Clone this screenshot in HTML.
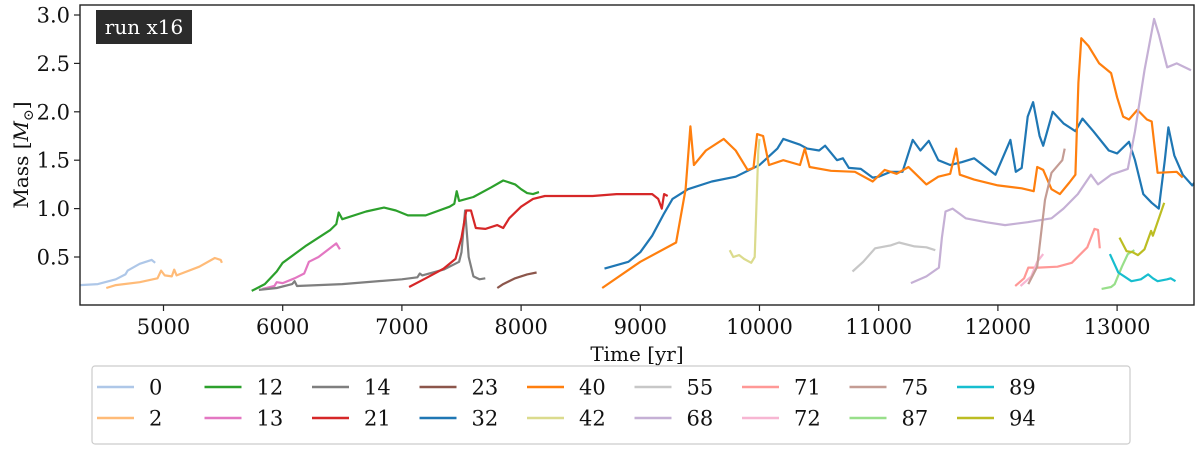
<!DOCTYPE html>
<html><head><meta charset="utf-8">
<style>
html,body{margin:0;padding:0;background:#fff;}
svg{display:block;font-family:"DejaVu Serif","Liberation Serif",serif;}
</style></head>
<body>
<svg id="chart" width="1200" height="451" viewBox="0 0 1200 451" xmlns="http://www.w3.org/2000/svg">
<rect x="0" y="0" width="1200" height="451" fill="#fff"/>
<g id="series"></g>
<rect x="80" y="5" width="1114" height="300" fill="none" stroke="#222" stroke-width="1.4"/>
<g id="xticks"></g>
<g id="yticks"></g>
<text x="637" y="361" font-size="20" text-anchor="middle" fill="#111">Time [yr]</text>
<text transform="translate(28,155) rotate(-90)" font-size="20" text-anchor="middle" fill="#111">Mass [<tspan font-style="italic">M</tspan><tspan font-size="14" dy="5">⊙</tspan><tspan dy="-5">]</tspan></text>
<rect x="96" y="10" width="96" height="34" fill="#2b2b2b"/>
<text x="144" y="34" font-size="20" text-anchor="middle" fill="#fff">run x16</text>
<rect x="92" y="366" width="1038" height="78" rx="3" fill="#fff" stroke="#ccc" stroke-width="1.2"/>
<g id="legend"></g>
</svg>
<script>
const xTicks=[5000,6000,7000,8000,9000,10000,11000,12000,13000];
const yTicks=[0.5,1.0,1.5,2.0,2.5,3.0];
const seriesNames=["0","2","12","13","14","21","23","32","40","42","55","68","71","72","75","87","89","94"];
const seriesColors=["#aec7e8","#ffbb78","#2ca02c","#e377c2","#7f7f7f","#d62728","#8c564b","#1f77b4","#ff7f0e","#dbdb8d","#c7c7c7","#c5b0d5","#ff9896","#f7b6d2","#c49c94","#98df8a","#17becf","#bcbd22"];
const s0=[[4300,0.21],[4450,0.22],[4600,0.27],[4680,0.32],[4700,0.36],[4800,0.43],[4900,0.47],[4930,0.44]];
const s2=[[4520,0.18],[4600,0.21],[4800,0.24],[4950,0.28],[4980,0.36],[5010,0.31],[5070,0.30],[5090,0.37],[5110,0.31],[5300,0.40],[5430,0.49],[5480,0.47],[5490,0.44]];
const s12=[[5740,0.15],[5850,0.22],[5950,0.35],[6000,0.44],[6200,0.62],[6400,0.78],[6450,0.84],[6470,0.96],[6500,0.89],[6700,0.97],[6850,1.01],[6950,0.98],[7050,0.93],[7200,0.93],[7400,1.02],[7440,1.05],[7460,1.18],[7480,1.08],[7600,1.12],[7750,1.22],[7850,1.29],[7950,1.25],[8000,1.20],[8050,1.16],[8100,1.15],[8150,1.17]];
const s13=[[5830,0.17],[5930,0.20],[5950,0.24],[6000,0.23],[6100,0.28],[6180,0.33],[6220,0.45],[6300,0.50],[6450,0.64],[6480,0.58]];
const s14=[[5800,0.16],[5950,0.18],[6080,0.22],[6100,0.25],[6120,0.20],[6500,0.22],[7000,0.27],[7130,0.29],[7150,0.33],[7170,0.31],[7350,0.37],[7480,0.45],[7500,0.55],[7530,0.98],[7560,0.50],[7600,0.30],[7650,0.27],[7700,0.28]];
const s21=[[7060,0.19],[7200,0.28],[7350,0.38],[7450,0.48],[7500,0.70],[7540,0.98],[7580,0.98],[7620,0.80],[7700,0.79],[7800,0.83],[7850,0.80],[7900,0.90],[8000,1.02],[8100,1.10],[8200,1.13],[8400,1.13],[8600,1.13],[8800,1.15],[9100,1.15],[9150,1.10],[9180,1.00],[9200,1.15],[9230,1.13]];
const s23=[[7800,0.18],[7850,0.22],[7950,0.28],[8050,0.32],[8130,0.34]];
const s32=[[8700,0.38],[8900,0.45],[9000,0.55],[9100,0.72],[9200,0.95],[9270,1.10],[9400,1.20],[9600,1.28],[9800,1.33],[10000,1.45],[10150,1.62],[10200,1.72],[10340,1.66],[10400,1.62],[10500,1.60],[10550,1.65],[10650,1.50],[10700,1.52],[10750,1.42],[10850,1.41],[10950,1.32],[11000,1.33],[11100,1.38],[11200,1.38],[11285,1.71],[11350,1.60],[11420,1.70],[11500,1.50],[11600,1.45],[11700,1.48],[11800,1.52],[11980,1.35],[12105,1.71],[12150,1.38],[12200,1.42],[12250,1.95],[12295,2.10],[12350,1.75],[12380,1.65],[12460,2.00],[12550,1.88],[12650,1.80],[12710,1.93],[12800,1.80],[12930,1.60],[13000,1.57],[13100,1.69],[13150,1.50],[13220,1.15],[13290,1.06],[13350,1.00],[13400,1.50],[13430,1.84],[13480,1.55],[13550,1.35],[13630,1.24],[13650,1.27]];
const s40=[[8680,0.18],[9000,0.45],[9300,0.65],[9380,1.20],[9420,1.85],[9450,1.45],[9550,1.60],[9700,1.72],[9800,1.60],[9900,1.40],[9950,1.42],[9980,1.77],[10030,1.75],[10080,1.45],[10200,1.50],[10340,1.45],[10380,1.62],[10420,1.43],[10600,1.39],[10800,1.38],[10950,1.28],[11050,1.40],[11150,1.36],[11250,1.43],[11300,1.37],[11400,1.25],[11500,1.33],[11600,1.36],[11650,1.62],[11680,1.35],[11800,1.30],[12000,1.24],[12200,1.21],[12300,1.18],[12330,1.43],[12380,1.40],[12450,1.20],[12520,1.15],[12600,1.27],[12650,1.35],[12675,2.30],[12700,2.76],[12760,2.68],[12850,2.50],[12950,2.40],[13000,2.15],[13050,1.95],[13100,1.92],[13170,2.02],[13250,1.92],[13290,1.90],[13340,1.37],[13500,1.38],[13550,1.32]];
const s42=[[9750,0.57],[9780,0.50],[9830,0.52],[9870,0.48],[9930,0.44],[9960,0.50],[9990,1.60],[10000,1.72]];
const s55=[[10780,0.35],[10870,0.45],[10970,0.59],[11100,0.62],[11170,0.65],[11300,0.61],[11400,0.60],[11475,0.57]];
const s68=[[11270,0.23],[11400,0.30],[11505,0.39],[11530,0.70],[11560,0.97],[11620,1.00],[11730,0.90],[11900,0.86],[12060,0.83],[12250,0.86],[12450,0.90],[12550,1.00],[12670,1.15],[12780,1.35],[12840,1.25],[12950,1.35],[13090,1.41],[13150,1.80],[13230,2.43],[13310,2.96],[13350,2.80],[13420,2.46],[13500,2.50],[13620,2.43]];
const s71=[[12145,0.20],[12220,0.28],[12255,0.39],[12340,0.39],[12500,0.40],[12620,0.44],[12750,0.60],[12810,0.79],[12840,0.78],[12855,0.59]];
const s72=[[12190,0.20],[12280,0.30],[12330,0.45],[12380,0.53]];
const s75=[[12255,0.22],[12330,0.40],[12395,1.09],[12450,1.37],[12540,1.50],[12560,1.62]];
const s87=[[12870,0.17],[12950,0.19],[12980,0.22],[13040,0.40],[13090,0.53],[13145,0.57]];
const s89=[[12940,0.53],[13010,0.34],[13060,0.30],[13120,0.25],[13200,0.27],[13260,0.32],[13300,0.28],[13340,0.25],[13420,0.27],[13450,0.28],[13490,0.25]];
const s94=[[13020,0.70],[13080,0.56],[13130,0.55],[13175,0.52],[13230,0.58],[13285,0.77],[13300,0.72],[13395,1.06]];
const allSeries=[s0,s2,s12,s13,s14,s21,s23,s32,s40,s42,s55,s68,s71,s72,s75,s87,s89,s94];

const NS="http://www.w3.org/2000/svg";
function xs(t){return 163.5+(t-5000)*0.1192;}
function ys(m){return 257-(m-0.5)*96.8;}
const gS=document.getElementById('series');
const clip=document.createElementNS(NS,'clipPath');clip.setAttribute('id','pc');
const cr=document.createElementNS(NS,'rect');cr.setAttribute('x',80);cr.setAttribute('y',5);cr.setAttribute('width',1114);cr.setAttribute('height',300);
clip.appendChild(cr);document.getElementById('chart').appendChild(clip);
gS.setAttribute('clip-path','url(#pc)');
allSeries.forEach((s,i)=>{
  const p=document.createElementNS(NS,'polyline');
  p.setAttribute('points',s.map(d=>xs(d[0]).toFixed(1)+','+ys(d[1]).toFixed(1)).join(' '));
  p.setAttribute('fill','none');p.setAttribute('stroke',seriesColors[i]);p.setAttribute('stroke-width','2.2');p.setAttribute('stroke-linejoin','round');
  
  
  gS.appendChild(p);
});
const gx=document.getElementById('xticks');
xTicks.forEach(t=>{
  const l=document.createElementNS(NS,'line');
  l.setAttribute('x1',xs(t));l.setAttribute('x2',xs(t));l.setAttribute('y1',305);l.setAttribute('y2',311);l.setAttribute('stroke','#222');l.setAttribute('stroke-width','1.2');
  
  
  gx.appendChild(l);
  const tx=document.createElementNS(NS,'text');
  tx.setAttribute('x',xs(t));tx.setAttribute('y',334);tx.setAttribute('font-size','21');tx.setAttribute('text-anchor','middle');tx.setAttribute('fill','#111');
  tx.textContent=t;
  
  
  gx.appendChild(tx);
});
const gy=document.getElementById('yticks');
yTicks.forEach(v=>{
  const l=document.createElementNS(NS,'line');
  l.setAttribute('x1',74);l.setAttribute('x2',80);l.setAttribute('y1',ys(v));l.setAttribute('y2',ys(v));l.setAttribute('stroke','#222');l.setAttribute('stroke-width','1.2');
  
  
  gy.appendChild(l);
  const tx=document.createElementNS(NS,'text');
  tx.setAttribute('x',70);tx.setAttribute('y',ys(v)+7.5);tx.setAttribute('font-size','21');tx.setAttribute('text-anchor','end');tx.setAttribute('fill','#111');
  tx.textContent=v.toFixed(1);
  
  
  gy.appendChild(tx);
});
const gl=document.getElementById('legend');
seriesNames.forEach((n,i)=>{
  const col=Math.floor(i/2),row=i%2;
  const x0=97+col*107.5,y0=387+row*31;
  const g=document.createElementNS(NS,'g');
  
  
  const l=document.createElementNS(NS,'line');
  l.setAttribute('x1',x0);l.setAttribute('x2',x0+37);l.setAttribute('y1',y0);l.setAttribute('y2',y0);l.setAttribute('stroke',seriesColors[i]);l.setAttribute('stroke-width','2.4');
  g.appendChild(l);
  const tx=document.createElementNS(NS,'text');
  tx.setAttribute('x',x0+52);tx.setAttribute('y',y0+7.5);tx.setAttribute('font-size','21');tx.setAttribute('fill','#111');
  tx.textContent=n;
  g.appendChild(tx);
  gl.appendChild(g);
});
</script>
</body></html>
